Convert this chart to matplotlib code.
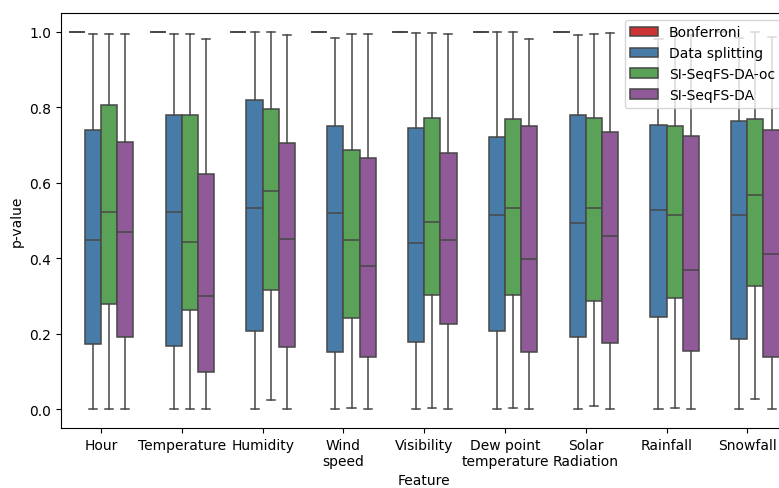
import colorsys
import matplotlib
matplotlib.use("Agg")
import matplotlib.pyplot as plt
from matplotlib.patches import Patch

# Features of the bike-sharing data set
features = ["Hour", "Temperature", "Humidity", "Wind\nspeed", "Visibility",
            "Dew point\ntemperature", "Solar\nRadiation", "Rainfall", "Snowfall"]
methods = ["Bonferroni", "Data splitting", "SI-SeqFS-DA-oc", "SI-SeqFS-DA"]

# Box summaries of the p-values for each method (one entry per feature)
bonf_q1 = [1.0] * 9
bonf_med = [1.0] * 9
bonf_q3 = [1.0] * 9
bonf_lo = [1.0] * 9
bonf_hi = [1.0] * 9

ds_q1 = [0.172, 0.166, 0.208, 0.151, 0.177, 0.206, 0.192, 0.244, 0.186]
ds_med = [0.447, 0.523, 0.534, 0.520, 0.440, 0.513, 0.494, 0.527, 0.514]
ds_q3 = [0.739, 0.778, 0.819, 0.749, 0.746, 0.722, 0.780, 0.753, 0.763]
ds_lo = [0.0, 0.0, 0.0, 0.0, 0.0, 0.0, 0.0, 0.0, 0.0]
ds_hi = [0.995, 0.995, 0.999, 0.983, 0.997, 0.999, 0.990, 0.981, 0.983]

oc_q1 = [0.278, 0.263, 0.315, 0.241, 0.302, 0.301, 0.285, 0.294, 0.326]
oc_med = [0.523, 0.442, 0.578, 0.449, 0.496, 0.533, 0.532, 0.514, 0.567]
oc_q3 = [0.806, 0.778, 0.795, 0.687, 0.772, 0.769, 0.772, 0.750, 0.769]
oc_lo = [0.0, 0.0, 0.024, 0.002, 0.002, 0.002, 0.008, 0.002, 0.027]
oc_hi = [0.995, 0.993, 0.999, 0.995, 0.997, 0.999, 0.994, 0.999, 0.999]

da_q1 = [0.191, 0.099, 0.164, 0.139, 0.226, 0.151, 0.176, 0.154, 0.138]
da_med = [0.470, 0.299, 0.451, 0.380, 0.449, 0.398, 0.458, 0.368, 0.411]
da_q3 = [0.708, 0.624, 0.705, 0.664, 0.678, 0.749, 0.733, 0.723, 0.739]
da_lo = [0.0, 0.0, 0.0, 0.0, 0.0, 0.0, 0.0, 0.0, 0.0]
da_hi = [0.995, 0.980, 0.990, 0.993, 0.995, 0.981, 0.997, 0.990, 0.986]

summaries = [
    (bonf_q1, bonf_med, bonf_q3, bonf_lo, bonf_hi),
    (ds_q1, ds_med, ds_q3, ds_lo, ds_hi),
    (oc_q1, oc_med, oc_q3, oc_lo, oc_hi),
    (da_q1, da_med, da_q3, da_lo, da_hi),
]


def desaturate(rgb, prop=0.75):
    h, l, s = colorsys.rgb_to_hls(*rgb)
    return colorsys.hls_to_rgb(h, l, s * prop)


set1 = [(0.894, 0.102, 0.110), (0.216, 0.494, 0.722),
        (0.302, 0.686, 0.290), (0.596, 0.306, 0.639)]
colors = [desaturate(c) for c in set1]
line_color = (0.28, 0.28, 0.28)
lw = 1.1

fig = plt.figure(figsize=(7.79, 4.89), dpi=100)
ax = fig.add_axes([0.0779, 0.1229, 0.9333, 0.8489])

width = 0.8 / len(methods)
for k, (q1, med, q3, lo, hi) in enumerate(summaries):
    stats = []
    for i in range(len(features)):
        stats.append({"q1": q1[i], "med": med[i], "q3": q3[i],
                      "whislo": lo[i], "whishi": hi[i], "fliers": []})
    pos = [i - 0.4 + width * (k + 0.5) for i in range(len(features))]
    ax.bxp(stats, positions=pos, widths=width, patch_artist=True,
           showfliers=False, manage_ticks=False,
           boxprops=dict(facecolor=colors[k], edgecolor=line_color, linewidth=lw),
           medianprops=dict(color=line_color, linewidth=lw),
           whiskerprops=dict(color=line_color, linewidth=lw),
           capprops=dict(color=line_color, linewidth=lw))

ax.set_xlim(-0.5, len(features) - 0.5)
ax.set_ylim(-0.05, 1.05)
ax.set_xticks(range(len(features)))
ax.set_xticklabels(features)
ax.set_yticks([0.0, 0.2, 0.4, 0.6, 0.8, 1.0])
ax.set_xlabel("Feature")
ax.set_ylabel("p-value")

handles = [Patch(facecolor=c, edgecolor=line_color, linewidth=lw, label=m)
           for c, m in zip(colors, methods)]
ax.legend(handles=handles, loc="upper right")

fig.savefig("out.png", dpi=100)
